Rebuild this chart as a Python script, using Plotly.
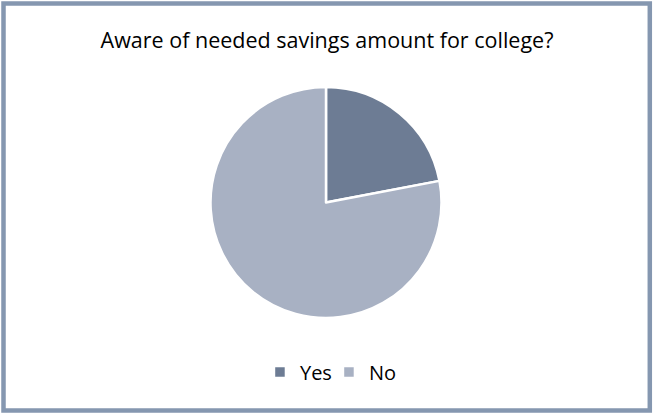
import plotly.graph_objects as go

# Survey answers: aware of needed savings amount for college?
answers = ["Yes", "No"]
shares = [22, 78]
slice_colors = ["#6d7c94", "#a8b1c3"]

W, H = 654, 414

fig = go.Figure(
    go.Pie(
        labels=answers,
        values=shares,
        sort=False,
        direction="clockwise",
        rotation=0,
        textinfo="none",
        hoverinfo="label+percent",
        marker=dict(colors=slice_colors, line=dict(color="white", width=2.5)),
        domain=dict(x=[210.5 / W, 441.5 / W], y=[1 - 318 / H, 1 - 87 / H]),
    )
)

fig.update_layout(
    width=W,
    height=H,
    margin=dict(l=0, r=0, t=0, b=0),
    paper_bgcolor="white",
    plot_bgcolor="white",
    font=dict(family="'Open Sans', Lato, sans-serif", color="#000000"),
    title=dict(
        text="Aware of needed savings amount for college?",
        x=0.5,
        xanchor="center",
        y=1 - 40 / H,
        yanchor="middle",
        font=dict(size=21.5, color="#000000"),
    ),
    showlegend=True,
    legend=dict(
        orientation="h",
        x=0.503,
        xanchor="center",
        y=1 - 372 / H,
        yanchor="middle",
        font=dict(size=20),
        entrywidth=24,
        bgcolor="rgba(0,0,0,0)",
    ),
    shapes=[
        dict(
            type="rect",
            xref="paper",
            yref="paper",
            x0=3.5 / W,
            x1=649.8 / W,
            y0=1 - 410.5 / H,
            y1=1 - 3.5 / H,
            line=dict(color="#8597b0", width=4.5),
            fillcolor="rgba(0,0,0,0)",
        )
    ],
)

fig.write_html("out.html")
